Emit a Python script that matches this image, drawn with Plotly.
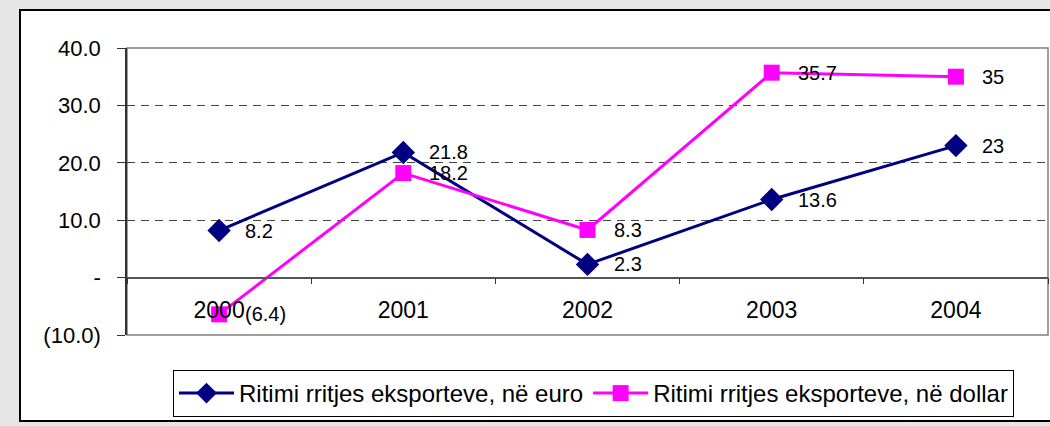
import plotly.graph_objects as go

years = ["2000", "2001", "2002", "2003", "2004"]
euro = [8.2, 21.8, 2.3, 13.6, 23]
dollar = [-6.4, 18.2, 8.3, 35.7, 35]
euro_labels = ["8.2", "21.8", "2.3", "13.6", "23"]
dollar_labels = ["(6.4)", "18.2", "8.3", "35.7", "35"]
ytick_vals = [-10, 0, 10, 20, 30, 40]
ytick_text = ["(10.0)", "-", "10.0", "20.0", "30.0", "40.0"]
names = ["Ritimi rritjes eksporteve, në euro", "Ritimi rritjes eksporteve, në dollar"]

FONT = "Liberation Sans, Arial, sans-serif"
W, H = 1050, 426
L, R, T, B = 127, 2, 48, 91
pw, ph = W - L - R, H - T - B

def px_x(x):
    return (x - L) / pw

def px_y(y):
    return (H - B - y) / ph

fig = go.Figure()
fig.add_trace(go.Scatter(x=years, y=euro, mode="lines+markers", name=names[0],
                         line=dict(color="#000080", width=3),
                         marker=dict(symbol="diamond", size=18, color="#000080")))
fig.add_trace(go.Scatter(x=years, y=dollar, mode="lines+markers", name=names[1],
                         line=dict(color="#FF00FF", width=3),
                         marker=dict(symbol="square", size=16, color="#FF00FF")))

annotations = []
for ys, labs in [(euro, euro_labels), (dollar, dollar_labels)]:
    for i, (y, t) in enumerate(zip(ys, labs)):
        annotations.append(dict(x=i, y=y, xref="x", yref="y", text=t, showarrow=False,
                                xanchor="left", yanchor="middle", xshift=24,
                                font=dict(family=FONT, size=20, color="black")))

shapes = [
    # outer white frame
    dict(type="rect", xref="paper", yref="paper", x0=px_x(20), x1=px_x(1060),
         y0=px_y(421), y1=px_y(10), fillcolor="white", line=dict(color="black", width=2),
         layer="below"),
    # plot area border
    dict(type="rect", xref="paper", yref="paper", x0=0, x1=1, y0=0, y1=1,
         line=dict(color="#808080", width=1.5), fillcolor="rgba(0,0,0,0)", layer="between"),
]

fig.update_layout(
    width=W, height=H,
    margin=dict(l=L, r=R, t=T, b=B, pad=0, autoexpand=False),
    paper_bgcolor="#e6e6e6",
    plot_bgcolor="rgba(0,0,0,0)",
    font=dict(family=FONT, size=22, color="black"),
    showlegend=True,
    legend=dict(orientation="h", x=px_x(173), xanchor="left", y=px_y(370), yanchor="top",
                bgcolor="white", bordercolor="black", borderwidth=1,
                font=dict(family=FONT, size=24), itemwidth=55, tracegroupgap=0),
    xaxis=dict(type="category", range=[-0.5, 4.5], anchor="free", position=0.2,
               showline=True, linecolor="#555555", linewidth=1.5,
               ticks="outside", ticklen=6, tickcolor="#333333", tickson="boundaries",
               showgrid=False, zeroline=False, ticklabelstandoff=12,
               tickfont=dict(family=FONT, size=23)),
    yaxis=dict(range=[-10, 40], tickvals=ytick_vals, ticktext=ytick_text,
               showline=True, linecolor="#333333", linewidth=1.5,
               ticks="outside", ticklen=8, tickcolor="#333333",
               showgrid=True, gridcolor="#444444", griddash="8px,6px", gridwidth=1,
               zeroline=False, ticklabelstandoff=12,
               tickfont=dict(family=FONT, size=22)),
    annotations=annotations,
    shapes=shapes,
)

fig.write_html("out.html", config={"displayModeBar": False},
               post_script="document.body.style.margin='0';document.body.style.background='#e6e6e6';")
